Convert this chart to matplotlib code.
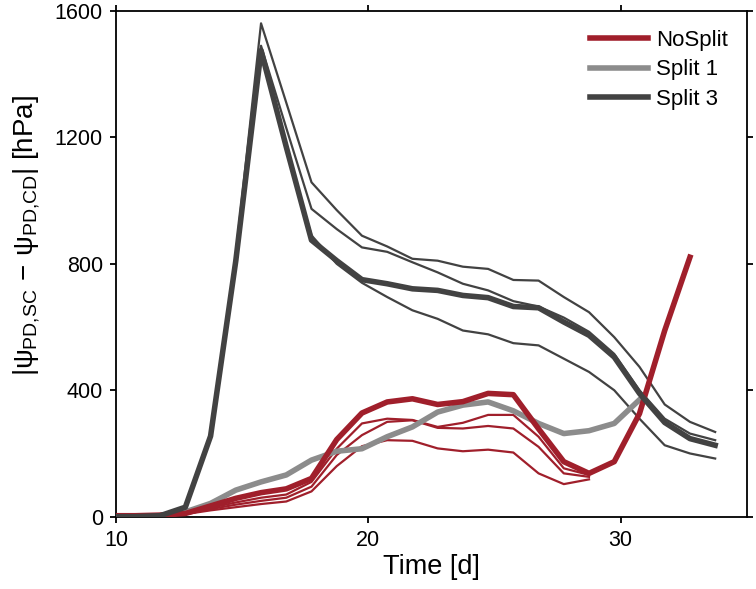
import matplotlib
matplotlib.use('Agg')
import matplotlib.pyplot as plt

plt.rcParams['font.family'] = ['Liberation Sans', 'DejaVu Sans']
plt.rcParams['mathtext.fontset'] = 'custom'
plt.rcParams['mathtext.rm'] = 'Liberation Sans'
plt.rcParams['mathtext.it'] = 'Liberation Sans'
plt.rcParams['mathtext.bf'] = 'Liberation Sans:bold'

# ---- data ----
time = [9.75, 10.75, 11.75, 12.75, 13.75, 14.75, 15.75, 16.75, 17.75, 18.75,
        19.75, 20.75, 21.75, 22.75, 23.75, 24.75, 25.75, 26.75, 27.75, 28.75,
        29.75, 30.75, 31.75, 32.75, 33.75]

split3_mean = [0, 0, 3, 30, 255, 810, 1475, 1170, 875, 810, 750, 737, 721, 716,
               700, 693, 665, 661, 616, 574, 505, 390, 298, 247, 226]
split3_a = [0, 0, 3, 30, 260, 830, 1561, 1310, 1058, 970, 889, 855, 816, 810,
            791, 784, 749, 747, 695, 647, 568, 474, 355, 300, 268]
split3_b = [0, 0, 3, 30, 255, 815, 1490, 1230, 974, 910, 852, 838, 805, 773,
            737, 716, 682, 665, 630, 585, 515, 400, 310, 263, 242]
split3_c = [0, 0, 3, 30, 250, 805, 1470, 1160, 890, 800, 740, 695, 653, 626,
            589, 577, 549, 542, 500, 458, 400, 310, 226, 200, 184]

split1_mean = [0, 0, 3, 15, 42, 84, 110, 132, 179, 207, 215, 253, 284, 331,
               353, 363, 335, 295, 263, 272, 295, 370]

nosplit_mean = [3, 3, 5, 10, 34, 58, 76, 88, 121, 244, 328, 363, 373, 355,
                364, 390, 386, 278, 174, 137, 174, 326, 589, 821]
nosplit_a = [2, 2, 4, 8, 28, 45, 60, 70, 110, 215, 295, 310, 306, 284, 297,
             322, 322, 253, 153, 132]
nosplit_b = [2, 2, 4, 8, 24, 38, 50, 60, 95, 195, 258, 300, 305, 281, 279,
             287, 279, 221, 137, 126]
nosplit_c = [2, 2, 4, 8, 20, 30, 40, 48, 80, 160, 223, 242, 240, 216, 207,
             212, 203, 137, 103, 118]

labels = ['NoSplit', 'Split 1', 'Split 3']
c_red = '#a01f2b'
c_gray = '#8c8c8c'
c_dark = '#424242'

fig = plt.figure(figsize=(7.56, 5.89), dpi=100)
ax = fig.add_axes([0.1534, 0.1228, 0.8343, 0.8585])

thin = 1.6
thick = 4.0

for s in (split3_a, split3_b, split3_c):
    ax.plot(time[:len(s)], s, color=c_dark, lw=thin, zorder=2)
for s in (nosplit_a, nosplit_b, nosplit_c):
    ax.plot(time[:len(s)], s, color=c_red, lw=thin, zorder=2)

h2, = ax.plot(time[:len(split1_mean)], split1_mean, color=c_gray, lw=thick,
              zorder=3, label=labels[1])
h1, = ax.plot(time[:len(nosplit_mean)], nosplit_mean, color=c_red, lw=thick,
              zorder=4, label=labels[0])
h3, = ax.plot(time[:len(split3_mean)], split3_mean, color=c_dark, lw=thick,
              zorder=5, label=labels[2])

ax.set_xlim(10, 35)
ax.set_ylim(0, 1600)
ax.set_xticks([10, 20, 30])
ax.set_yticks([0, 400, 800, 1200, 1600])
ax.tick_params(direction='out', length=4.5, width=1.3, labelsize=15.5,
               top=True, right=True, pad=5, colors='black')
for sp in ax.spines.values():
    sp.set_linewidth(1.3)

ax.set_xlabel('Time [d]', fontsize=19.5, labelpad=2)
ax.set_ylabel(r'$|ψ_{\mathrm{PD{,}SC}}\,-\,ψ_{\mathrm{PD{,}CD}}|$ [hPa]',
              fontsize=20)
ax.yaxis.set_label_coords(-0.118, 0.557)

leg = ax.legend(handles=[h1, h2, h3], loc='upper right', frameon=False,
                fontsize=16, handlelength=2.6, handletextpad=0.35,
                labelspacing=0.38, borderaxespad=0.45)

fig.savefig('out.png', dpi=100)
